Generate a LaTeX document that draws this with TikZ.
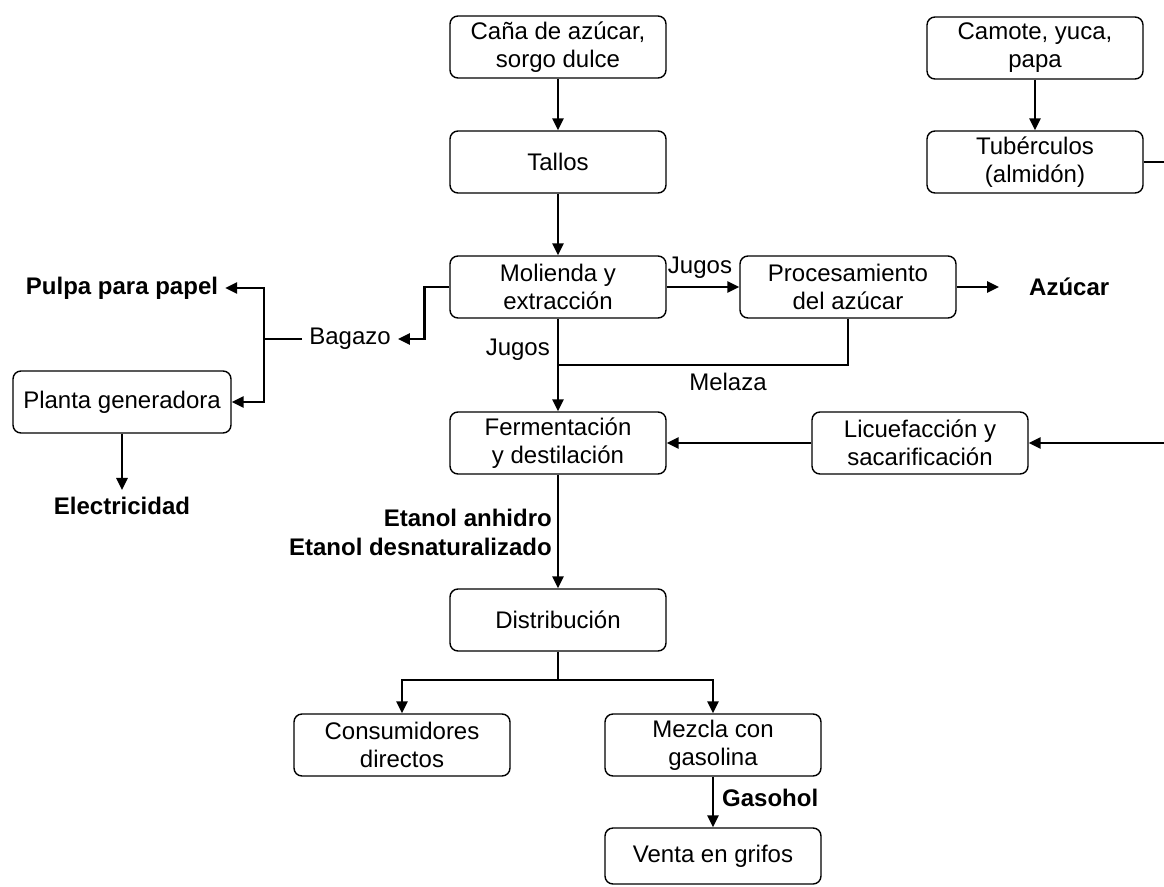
\documentclass[tikz,border=0pt]{standalone}
\usepackage{fontspec}
\setmainfont{Liberation Sans}
\usetikzlibrary{arrows.meta}

\begin{document}
\begin{tikzpicture}[x=1pt, y=-1pt,
		caja/.style={draw, rounded corners=8pt, line width=1.4pt, minimum width=216pt, minimum height=62pt, align=center, inner sep=2pt, font=\fontsize{24}{28}\selectfont},
		etiqueta/.style={align=center, inner sep=7pt, font=\fontsize{24}{28}\selectfont},
		negrita/.style={etiqueta, font=\fontsize{24}{29}\selectfont\bfseries},
		linea/.style={line width=2.6pt},
		flecha/.style={linea, -{Triangle[length=12pt, width=11pt]}}]
		
		%tamaño de la figura
		\useasboundingbox (0,0) rectangle (1164,886);
		\clip (0,0) rectangle (1164,886);
		
		%columna central
		\def\xC{558};
		
		\node [caja] (cana) at (\xC,47) {Caña de azúcar,\\sorgo dulce};
		\node [caja] (tallos) at (\xC,162) {Tallos};
		\node [caja] (molienda) at (\xC,287) {Molienda y\\extracción};
		\node [caja] (procesamiento) at (848,287) {Procesamiento\\del azúcar};
		\node [negrita, anchor=west] (azucar) at (1022,287) {Azúcar};
		\node [caja] (fermentacion) at (\xC,443) {Fermentación\\y destilación};
		\node [caja] (distribucion) at (\xC,620) {Distribución};
		
		%tubérculos
		\node [caja] (camote) at (1035,48) {Camote, yuca,\\papa};
		\node [caja] (tuberculos) at (1035,162) {Tubérculos\\(almidón)};
		\node [caja] (licuefaccion) at (920,443) {Licuefacción y\\sacarificación};
		
		%bagazo
		\node [etiqueta] (bagazo) at (350,339) {Bagazo};
		\node [negrita] (pulpa) at (122,288) {Pulpa para papel};
		\node [caja, minimum width=218pt] (planta) at (122,402) {Planta generadora};
		\node [negrita] (electricidad) at (122,506) {Electricidad};
		
		%distribución
		\node [caja] (consumidores) at (402,745) {Consumidores\\directos};
		\node [caja] (mezcla) at (713,745) {Mezcla con\\gasolina};
		\node [caja, minimum height=56pt] (venta) at (713,856) {Venta en grifos};
		
		%etiquetas de las flechas
		\node [etiqueta] (jugosA) at (700,268) {Jugos};
		\node [etiqueta, anchor=east] (jugosB) at (557,350) {Jugos};
		\node [etiqueta] (melaza) at (728,382) {Melaza};
		\node [negrita, anchor=east, align=right] (etanol) at (559,532) {Etanol anhidro\\Etanol desnaturalizado};
		\node [negrita, anchor=west] (gasohol) at (715,798) {Gasohol};
		
		\coordinate (union) at (\xC,365);
		\coordinate (rama) at (264,339);
		\coordinate (reparto) at (\xC,680);
		
		%flechas
		\draw [flecha] (cana) -- (tallos);
		\draw [flecha] (tallos) -- (molienda);
		\draw [flecha] (molienda) -- (procesamiento);
		\draw [flecha, shorten >=23pt] (procesamiento) -- (azucar);
		\draw [linea] (procesamiento.south) |- (union);
		\draw [flecha] (molienda) -- (fermentacion);
		\draw [flecha] (camote) -- (tuberculos);
		\draw [flecha] (tuberculos.east) -- ++(40,0) |- (licuefaccion.east);
		\draw [flecha] (licuefaccion) -- (fermentacion);
		
		\draw [flecha] (molienda.west) -| ++(-25,52) -- (bagazo.east);
		\draw [linea] (bagazo.west) -- (rama);
		\draw [flecha] (rama) |- (pulpa.east);
		\draw [flecha] (rama) |- (planta.east);
		\draw [flecha] (planta) -- (electricidad);
		
		\draw [flecha] (fermentacion) -- (distribucion);
		\draw [linea] (distribucion) -- (reparto);
		\draw [flecha] (reparto) -| (consumidores);
		\draw [flecha] (reparto) -| (mezcla);
		\draw [flecha] (mezcla) -- (venta);
		
	\end{tikzpicture}
\end{document}
